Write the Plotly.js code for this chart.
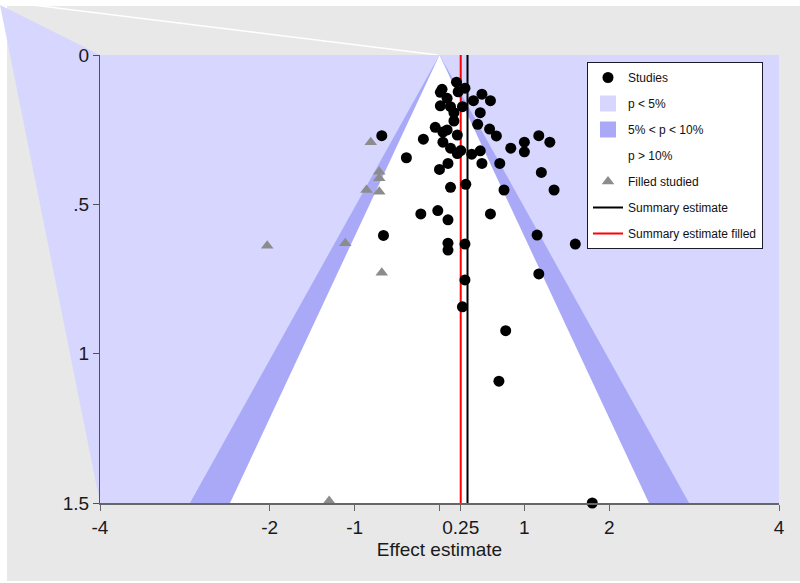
<!DOCTYPE html>
<html>
<head>
<meta charset="utf-8">
<script src="https://cdn.plot.ly/plotly-3.0.1.min.js"></script>
<style>html,body{margin:0;padding:0;background:#fff;}#chart{width:800px;height:583px;}</style>
</head>
<body>
<div id="chart"></div>
<script>
// ---------------- data ----------------
const studyEffect = [0.20,0.03,0.30,0.01,0.22,0.50,0.60,0.40,0.09,0.01,0.13,0.27,0.48,0.17,0.17,0.45,-0.05,0.09,0.04,0.59,0.67,0.21,-0.68,-0.19,0.04,0.13,0.21,0.25,0.38,0.48,0.84,1.00,1.00,1.17,1.30,-0.39,0.10,0.00,0.50,0.71,1.20,0.13,0.31,0.76,1.35,-0.22,-0.02,0.10,0.60,-0.66,0.10,0.10,0.30,1.15,1.60,1.17,0.30,0.27,0.78,0.70,1.80];
const studySE = [0.091,0.115,0.111,0.125,0.123,0.131,0.153,0.153,0.145,0.170,0.173,0.173,0.193,0.193,0.221,0.232,0.242,0.251,0.258,0.248,0.271,0.268,0.270,0.282,0.292,0.312,0.330,0.320,0.332,0.321,0.312,0.292,0.324,0.270,0.292,0.344,0.363,0.383,0.363,0.363,0.393,0.443,0.433,0.452,0.452,0.532,0.521,0.552,0.532,0.604,0.630,0.653,0.633,0.603,0.633,0.733,0.753,0.843,0.923,1.092,1.500];
const filledEffect = [-0.81,-0.71,-0.71,-0.86,-0.71,-1.11,-2.03,-0.68,-1.30];
const filledSE = [0.292,0.391,0.413,0.452,0.458,0.630,0.639,0.729,1.493];
const summaryEstimate = 0.33;
const summaryEstimateFilled = 0.25;
const zCrit5 = 1.96;
const zCrit10 = 1.645;
const seMax = 1.5;
const xMin = -4, xMax = 4;
const xTickVals = [-4,-2,-1,0,0.25,1,2,4];
const xTickText = ['-4','-2','-1','','0.25','1','2','4'];
const yTickVals = [0,0.5,1,1.5];
const yTickText = ['0','.5','1','1.5'];

// ---------------- layout helpers ----------------
const W = 800, H = 583;
const M = {l:100, r:21, t:55, b:80};
const PW = W - M.l - M.r, PH = H - M.t - M.b;
const px = x => (x - M.l) / PW;
const py = y => (M.t + PH - y) / PH;

const cLight = '#d6d6fe';
const cBand = '#a9a9f8';
const fontFam = '"Liberation Sans", Arial, Helvetica, sans-serif';

const legendSquare = (name, color, rank) => ({
  x:[null], y:[null], mode:'markers',
  marker:{symbol:'square', size:16, color:color, line:{width:0}},
  name:name, legendgroup:'g'+rank, legendrank:rank, hoverinfo:'skip'
});

const traces = [
  { // p < 5% : whole plotting region
    x:[xMin,xMax,xMax,xMin,xMin], y:[0,0,seMax,seMax,0],
    mode:'lines', fill:'toself', fillcolor:cLight, line:{width:0, color:cLight},
    showlegend:false, hoverinfo:'skip'
  },
  { // 5% < p < 10%
    x:[0,-zCrit5*seMax,zCrit5*seMax,0], y:[0,seMax,seMax,0],
    mode:'lines', fill:'toself', fillcolor:cBand, line:{width:0, color:cBand},
    showlegend:false, hoverinfo:'skip'
  },
  { // p > 10%
    x:[0,-zCrit10*seMax,zCrit10*seMax,0], y:[0,seMax,seMax,0],
    mode:'lines', fill:'toself', fillcolor:'#ffffff', line:{width:0, color:'#ffffff'},
    showlegend:false, hoverinfo:'skip'
  },
  legendSquare('p < 5%', cLight, 2),
  legendSquare('5% < p < 10%', cBand, 3),
  legendSquare('p > 10%', '#ffffff', 4),
  {
    x:[summaryEstimate,summaryEstimate], y:[0,seMax], mode:'lines',
    line:{color:'#000000', width:2}, name:'Summary estimate',
    legendgroup:'g6', legendrank:6
  },
  {
    x:[summaryEstimateFilled,summaryEstimateFilled], y:[0,seMax], mode:'lines',
    line:{color:'#ff0000', width:2}, name:'Summary estimate filled',
    legendgroup:'g7', legendrank:7
  },
  {
    x:filledEffect, y:filledSE, mode:'markers', cliponaxis:false,
    marker:{symbol:'triangle-up', size:11, color:'#8c8c8c'},
    name:'Filled studied', legendgroup:'g5', legendrank:5
  },
  {
    x:studyEffect, y:studySE, mode:'markers', cliponaxis:false,
    marker:{symbol:'circle', size:11, color:'#000000'},
    name:'Studies', legendgroup:'g1', legendrank:1
  }
];

const layout = {
  width:W, height:H, margin:M,
  paper_bgcolor:'#ffffff', plot_bgcolor:cLight,
  font:{family:fontFam, color:'#1a1a1a', size:19},
  showlegend:true,
  legend:{
    x:px(587), y:py(62), xanchor:'left', yanchor:'top',
    bgcolor:'#ffffff', bordercolor:'#1a1a2a', borderwidth:1,
    font:{size:12, family:fontFam, color:'#111'},
    traceorder:'grouped', tracegroupgap:7, itemwidth:30
  },
  xaxis:{
    range:[xMin,xMax], tickmode:'array', tickvals:xTickVals, ticktext:xTickText,
    showgrid:false, zeroline:false, showline:true, linecolor:'#666', linewidth:2,
    ticks:'outside', ticklen:6, tickcolor:'#666', tickwidth:1,
    tickfont:{size:19},
    title:{text:'Effect estimate', font:{size:19}, standoff:6},
    automargin:false, fixedrange:true
  },
  yaxis:{
    range:[seMax,0], tickmode:'array', tickvals:yTickVals, ticktext:yTickText,
    showgrid:false, zeroline:false, showline:true, linecolor:'#505060', linewidth:1,
    ticks:'outside', ticklen:6, tickcolor:'#505060', tickwidth:1,
    tickfont:{size:19}, automargin:false, fixedrange:true
  },
  shapes:[
    {type:'rect', xref:'paper', yref:'paper', x0:px(7), x1:px(800), y0:py(581), y1:py(6),
     fillcolor:'#e8e8e8', line:{width:0}, layer:'below'},
    {type:'path', xref:'paper', yref:'paper',
     path:`M ${px(0)} ${py(5)} L ${px(100)} ${py(55)} L ${px(100)} ${py(503)} Z`,
     fillcolor:cLight, line:{width:0}, layer:'below'},
    {type:'line', xref:'paper', yref:'paper', x0:px(0), y0:py(1), x1:px(438), y1:py(55),
     line:{color:'#ffffff', width:1.5}, layer:'below'}
  ]
};

Plotly.newPlot('chart', traces, layout, {displayModeBar:false, staticPlot:true});
</script>
</body>
</html>
